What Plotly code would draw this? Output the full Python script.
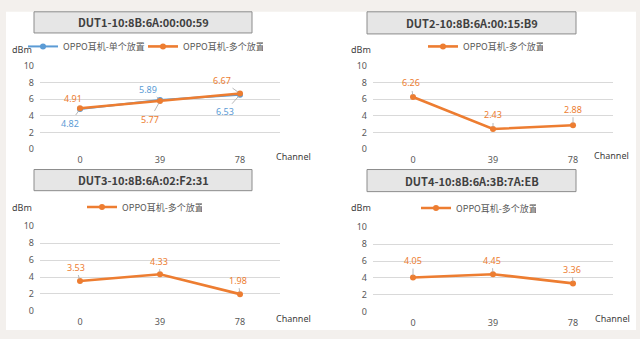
import plotly.graph_objects as go

channels = ["0", "39", "78"]
series_single = "OPPO耳机-单个放置"
series_multi = "OPPO耳机-多个放置"

dut1_title = "DUT1-10:8B:6A:00:00:59"
dut2_title = "DUT2-10:8B:6A:00:15:B9"
dut3_title = "DUT3-10:8B:6A:02:F2:31"
dut4_title = "DUT4-10:8B:6A:3B:7A:EB"

dut1_single = [4.82, 5.89, 6.53]
dut1_multi = [4.91, 5.77, 6.67]
dut2_multi = [6.26, 2.43, 2.88]
dut3_multi = [3.53, 4.33, 1.98]
dut4_multi = [4.05, 4.45, 3.36]

BLUE = "#5b9bd5"
ORANGE = "#ed7d31"
W, H = 640, 339

def px(x):
    return x / W

def py(y):
    return 1 - y / H

fig = go.Figure()

panels = [
    dict(ax="", x0=40, x1=280, y0=61, y1=148, box=(34, 5, 252, 27), title=dut1_title,
         dbm=(22, 44), chan=(293, 155), leg="legend", legpos=(23, 41)),
    dict(ax="2", x0=373, x1=613, y0=61, y1=148, box=(367, 5, 576, 28), title=dut2_title,
         dbm=(361, 44), chan=(611, 154), leg="legend2", legpos=(423, 41)),
    dict(ax="3", x0=40, x1=280, y0=228, y1=316, box=(34, 169, 252, 191), title=dut3_title,
         dbm=(22, 208), chan=(293, 324), leg="legend3", legpos=(82, 208)),
    dict(ax="4", x0=373, x1=613, y0=229, y1=317, box=(367, 169, 576, 192), title=dut4_title,
         dbm=(361, 208), chan=(612, 324), leg="legend4", legpos=(416, 209)),
]

data = [
    [(series_single, dut1_single, BLUE, 2.0,
      [(-10, 14), (-12, -11), (-15, 17)]),
     (series_multi, dut1_multi, ORANGE, 2.6,
      [(-7, -10), (-10, 18), (-18, -13)])],
    [(series_multi, dut2_multi, ORANGE, 2.6, [(-2, -14), (0, -14), (0, -16)])],
    [(series_multi, dut3_multi, ORANGE, 2.6, [(-4, -14), (-1, -13), (-2, -14)])],
    [(series_multi, dut4_multi, ORANGE, 2.6, [(0, -17), (-1, -14), (-1, -14)])],
]

shapes = []
annotations = []
layout_axes = {}
legends = {}

shapes.append(dict(type="rect", xref="paper", yref="paper", x0=px(6), x1=px(636),
                   y0=py(336), y1=py(5), fillcolor="white", line=dict(width=0), layer="below"))

tickfont = dict(family="Noto Sans, DejaVu Sans", size=9, color="#595959")
txt = dict(showarrow=False, xanchor="center", yanchor="middle", xref="paper", yref="paper")

for p, traces in zip(panels, data):
    a = p["ax"]
    xa = "x" + a
    ya = "y" + a
    layout_axes["xaxis" + a] = dict(
        domain=[px(p["x0"]), px(p["x1"])], anchor=ya, type="category",
        range=[-0.5, 2.5], showgrid=False, showline=False, zeroline=False,
        ticks="", tickfont=tickfont, ticklabelstandoff=4, fixedrange=True)
    layout_axes["yaxis" + a] = dict(
        domain=[py(p["y1"]), py(p["y0"])], anchor=xa, range=[0, 10], dtick=2,
        showgrid=True, gridcolor="#d9d9d9", gridwidth=1, zeroline=False,
        showline=False, ticks="", tickfont=tickfont, ticklabelstandoff=5, fixedrange=True)
    for name, vals, col, lw, offs in traces:
        fig.add_trace(go.Scatter(
            x=channels, y=vals, name=name, mode="lines+markers",
            line=dict(color=col, width=lw), marker=dict(color=col, size=6),
            xaxis=xa, yaxis=ya, legend=p["leg"], showlegend=True))
        for i, (v, (ox, oy)) in enumerate(zip(vals, offs)):
            annotations.append(dict(
                x=i, y=v, xref=xa, yref=ya, text=f"{v:.2f}", showarrow=True,
                arrowhead=0, arrowwidth=0.8, arrowcolor="#a6a6a6", ax=ox, ay=oy,
                standoff=2, font=dict(family="Noto Sans, DejaVu Sans", size=9, color=col)))
    bx0, by0, bx1, by1 = p["box"]
    shapes.append(dict(type="rect", xref="paper", yref="paper", x0=px(bx0), x1=px(bx1),
                       y0=py(by1), y1=py(by0), fillcolor="#e6e6e6",
                       line=dict(color="#8c8c8c", width=1)))
    annotations.append(dict(x=px((bx0 + bx1) / 2), y=py((by0 + by1) / 2),
                            text=f"<b>{p['title']}</b>",
                            font=dict(family="Noto Sans CJK SC, Noto Sans", size=11, color="#404040"),
                            **txt))
    annotations.append(dict(x=px(p["dbm"][0]), y=py(p["dbm"][1]), text="dBm",
                            font=dict(family="Noto Sans, DejaVu Sans", size=9, color="#404040"),
                            **txt))
    annotations.append(dict(x=px(p["chan"][0]), y=py(p["chan"][1]), text="Channel",
                            font=dict(family="Noto Sans, DejaVu Sans", size=9, color="#404040"),
                            **txt))
    legends[p["leg"]] = dict(
        x=px(p["legpos"][0]), y=py(p["legpos"][1]), xanchor="left", yanchor="middle",
        orientation="h", bgcolor="rgba(0,0,0,0)", itemwidth=30,
        entrywidth=75, entrywidthmode="pixels", tracegroupgap=0,
        font=dict(family="Noto Sans CJK SC", size=9, color="#595959"))

fig.update_layout(
    width=W, height=H, margin=dict(l=0, r=0, t=0, b=0),
    paper_bgcolor="#f3f0ed", plot_bgcolor="rgba(0,0,0,0)",
    shapes=shapes, annotations=annotations, **layout_axes, **legends)

fig.write_html("out.html")
